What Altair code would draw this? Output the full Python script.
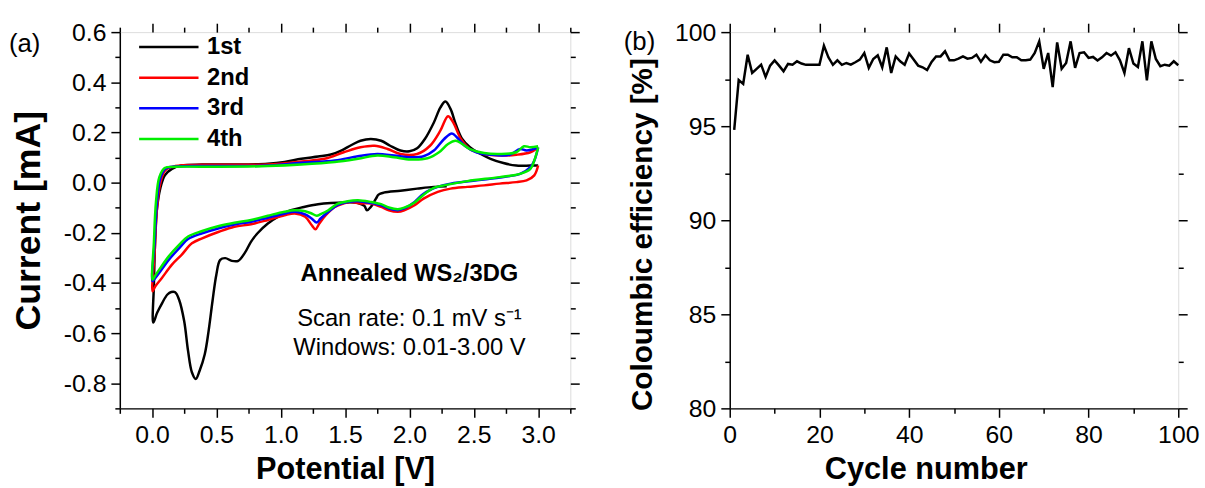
import altair as alt
import pandas as pd

FONT = "Liberation Sans"

# ---------------- Panel (a): cyclic voltammetry ----------------
series_names = ["1st", "2nd", "3rd", "4th"]
series_colors = ["#000000", "#FF0000", "#0000FF", "#00EE00"]

# 1st cycle (cathodic from OCV, then anodic to 3.0 V)
v1 = [2.29, 2.19, 2.06, 1.93, 1.80, 1.76, 1.74, 1.70, 1.67, 1.65,
      1.60, 1.49, 1.39, 1.29, 1.18, 1.08, 0.98, 0.90, 0.82, 0.77,
      0.72, 0.67, 0.62, 0.57, 0.53, 0.50, 0.47, 0.44, 0.41, 0.37,
      0.34, 0.31, 0.28, 0.25, 0.21, 0.18, 0.15, 0.12, 0.08, 0.04, 0.01,
      0.015, 0.026, 0.039, 0.064, 0.10, 0.155, 0.23, 0.39, 0.64, 0.90,
      1.03, 1.16, 1.29, 1.39, 1.47, 1.55, 1.62, 1.70, 1.78, 1.85,
      1.93, 2.00, 2.06, 2.12, 2.19, 2.24, 2.28, 2.32, 2.36, 2.41,
      2.47, 2.55, 2.63, 2.73, 2.83, 2.94, 3.00]
i1 = [-0.015, -0.017, -0.024, -0.032, -0.040, -0.048, -0.064, -0.097, -0.110, -0.093,
      -0.081, -0.079, -0.081, -0.086, -0.097, -0.110, -0.136, -0.163, -0.202, -0.235,
      -0.281, -0.312, -0.312, -0.301, -0.308, -0.367, -0.473, -0.591, -0.684, -0.750,
      -0.783, -0.756, -0.670, -0.552, -0.466, -0.437, -0.436, -0.446, -0.479, -0.519, -0.558,
      -0.407, -0.209, -0.103, -0.024, 0.029, 0.055, 0.068, 0.072, 0.072, 0.075,
      0.082, 0.095, 0.104, 0.112, 0.128, 0.150, 0.167, 0.174, 0.167, 0.147,
      0.128, 0.125, 0.137, 0.174, 0.240, 0.299, 0.323, 0.293, 0.233, 0.174,
      0.141, 0.115, 0.095, 0.078, 0.068, 0.068, 0.068]

# 2nd cycle
v2 = [3.00, 2.97, 2.91, 2.83, 2.70, 2.58, 2.45, 2.32, 2.22, 2.11,
      2.04, 1.96, 1.91, 1.84, 1.78, 1.70, 1.62, 1.55, 1.49, 1.42,
      1.35, 1.30, 1.27, 1.24, 1.19, 1.11, 1.03, 0.90, 0.77, 0.64,
      0.52, 0.39, 0.31, 0.23, 0.155, 0.077, 0.026, 0.005,
      0.021, 0.039, 0.064, 0.103, 0.18, 0.39, 0.64, 0.90, 1.16, 1.34,
      1.49, 1.62, 1.73, 1.83, 1.93, 2.06, 2.16, 2.24, 2.30, 2.34,
      2.40, 2.47, 2.58, 2.70, 2.83, 2.94, 3.00]
i2 = [0.068, 0.029, 0.009, 0.002, -0.004, -0.011, -0.017, -0.024, -0.037, -0.064,
      -0.090, -0.110, -0.116, -0.110, -0.097, -0.083, -0.083, -0.077, -0.083, -0.097,
      -0.130, -0.163, -0.186, -0.169, -0.136, -0.123, -0.130, -0.149, -0.166, -0.176,
      -0.196, -0.222, -0.242, -0.288, -0.327, -0.380, -0.413, -0.433,
      -0.275, -0.103, -0.004, 0.049, 0.066, 0.071, 0.071, 0.072, 0.084, 0.095,
      0.121, 0.141, 0.147, 0.134, 0.114, 0.114, 0.147, 0.207, 0.265, 0.240,
      0.174, 0.134, 0.114, 0.108, 0.111, 0.121, 0.140]

# 3rd cycle
v3 = [3.00, 2.97, 2.94, 2.86, 2.78, 2.58, 2.32, 2.22, 2.11, 2.04,
      1.96, 1.91, 1.84, 1.78, 1.70, 1.60, 1.52, 1.44, 1.37, 1.31,
      1.28, 1.24, 1.19, 1.11, 1.03, 0.90, 0.77, 0.64, 0.52, 0.39,
      0.28, 0.21, 0.13, 0.064, 0.026, 0.005,
      0.021, 0.039, 0.064, 0.103, 0.18, 0.52, 0.90, 1.16, 1.42, 1.60,
      1.75, 1.88, 2.01, 2.11, 2.19, 2.27, 2.33, 2.37, 2.43, 2.52,
      2.63, 2.78, 2.86, 2.91, 3.00]
i3 = [0.140, 0.087, 0.062, 0.035, 0.026, 0.012, -0.004, -0.017, -0.044, -0.077,
      -0.103, -0.110, -0.103, -0.090, -0.081, -0.074, -0.077, -0.090, -0.116, -0.143,
      -0.159, -0.143, -0.127, -0.116, -0.123, -0.140, -0.156, -0.167, -0.182, -0.202,
      -0.225, -0.262, -0.308, -0.354, -0.380, -0.393,
      -0.235, -0.077, 0.016, 0.055, 0.064, 0.066, 0.068, 0.079, 0.088, 0.105,
      0.114, 0.108, 0.101, 0.105, 0.128, 0.174, 0.196, 0.180, 0.147, 0.121,
      0.111, 0.111, 0.134, 0.128, 0.140]

# 4th cycle
v4 = [3.00, 2.97, 2.94, 2.86, 2.70, 2.45, 2.27, 2.19, 2.11, 2.04,
      1.96, 1.91, 1.84, 1.78, 1.70, 1.60, 1.52, 1.44, 1.37, 1.31,
      1.28, 1.24, 1.19, 1.11, 1.03, 0.90, 0.77, 0.64, 0.52, 0.39,
      0.28, 0.21, 0.13, 0.064, 0.026, 0.005,
      0.015, 0.031, 0.057, 0.098, 0.18, 0.52, 0.90, 1.16, 1.42, 1.60,
      1.75, 1.88, 2.01, 2.14, 2.23, 2.30, 2.36, 2.41, 2.47, 2.58,
      2.70, 2.83, 2.89, 2.94, 3.00]
i4 = [0.140, 0.088, 0.055, 0.035, 0.022, 0.006, -0.011, -0.021, -0.048, -0.079,
      -0.100, -0.106, -0.099, -0.086, -0.077, -0.070, -0.074, -0.085, -0.110, -0.126,
      -0.132, -0.123, -0.114, -0.110, -0.116, -0.132, -0.149, -0.160, -0.173, -0.193,
      -0.215, -0.248, -0.294, -0.341, -0.370, -0.387,
      -0.235, -0.077, 0.022, 0.058, 0.063, 0.063, 0.066, 0.072, 0.082, 0.095,
      0.108, 0.101, 0.092, 0.097, 0.121, 0.154, 0.167, 0.154, 0.134, 0.118,
      0.114, 0.121, 0.145, 0.141, 0.145]

pot_ticks = [-0.25, 0.0, 0.25, 0.5, 0.75, 1.0, 1.25, 1.5, 1.75, 2.0, 2.25, 2.5, 2.75, 3.0, 3.25]
cur_ticks = [-0.9, -0.8, -0.7, -0.6, -0.5, -0.4, -0.3, -0.2, -0.1, 0.0,
             0.1, 0.2, 0.3, 0.4, 0.5, 0.6]

title_text = ["Annealed WS\u2082/3DG"]
title_x = [2.0]
title_y = [-0.365]
note_text = ["Scan rate: 0.1 mV s\u207b\u00b9", "Windows: 0.01-3.00 V"]
note_x = [2.0, 2.0]
note_y = [-0.543, -0.661]

# ---------------- Panel (b): coulombic efficiency ----------------
cycles = list(range(1, 101))
ce = [94.80, 97.45, 97.25, 98.80, 97.83, 98.05, 98.27, 97.62, 98.22, 98.50,
      98.22, 97.92, 98.31, 98.27, 98.45, 98.33, 98.26, 98.26, 98.26, 98.26,
      99.28, 98.66, 98.26, 98.50, 98.26, 98.36, 98.27, 98.40, 98.54, 98.89,
      98.10, 98.57, 98.77, 98.13, 99.19, 97.83, 98.71, 98.45, 98.27, 98.86,
      98.54, 98.22, 98.13, 97.98, 98.42, 98.71, 98.71, 98.98, 98.50, 98.50,
      98.59, 98.71, 98.59, 98.63, 98.80, 98.42, 98.77, 98.50, 98.40, 98.42,
      98.80, 98.80, 98.66, 98.66, 98.50, 98.50, 98.54, 98.89, 99.51, 98.05,
      98.89, 97.08, 99.45, 98.05, 98.36, 99.51, 98.10, 98.89, 98.93, 98.63,
      98.68, 98.49, 98.66, 98.89, 98.75, 98.93, 98.50, 97.83, 99.15, 98.33,
      98.15, 99.51, 97.43, 99.51, 98.57, 98.19, 98.27, 98.22, 98.45, 98.24]

cyc_ticks = [0, 10, 20, 30, 40, 50, 60, 70, 80, 90, 100]
ce_ticks = [80, 82.5, 85, 87.5, 90, 92.5, 95, 97.5, 100]

# ---------------- build tables ----------------
rows = []
for name, vs, cs in zip(series_names, [v1, v2, v3, v4], [i1, i2, i3, i4]):
    for k, (v, c) in enumerate(zip(vs, cs)):
        rows.append({"cycle": name, "idx": k, "V": v, "I": c})
cv = pd.DataFrame(rows)
ann_bold = pd.DataFrame({"V": title_x, "I": title_y, "text": title_text})
ann_norm = pd.DataFrame({"V": note_x, "I": note_y, "text": note_text})
ce_df = pd.DataFrame({"n": cycles, "ce": ce})

W_A, W_B, H = 455, 453, 380


def major_size(test):
    return {"condition": {"test": test, "value": 9}, "value": 5}


def axis(title, values, test, orient, fmt=None, title_size=31, title_pad=10, mirror=False, **extra):
    kw = dict(
        orient=orient, values=values, grid=False,
        domain=False if mirror else True, domainColor="black", domainWidth=1.5,
        tickColor="black", tickWidth=1.5, tickSize=major_size(test),
        labelFont=FONT, labelFontSize=25, labelColor="black",
        labelFlush=False, labelOverlap=False, labelPadding=5,
    )
    if mirror:
        kw.update(labels=False, title=None)
    else:
        kw.update(title=title, titleFont=FONT, titleFontSize=title_size,
                  titleFontWeight="bold", titleColor="black", titlePadding=title_pad,
                  labelExpr=f"({test}) ? replace(datum.label, '\u2212', '-') : ''")
        if fmt:
            kw["format"] = fmt
    kw.update(extra)
    return alt.Axis(**kw)


test_pot = "abs(datum.value*2 - round(datum.value*2)) < 0.001"
test_cur = "abs(datum.value*5 - round(datum.value*5)) < 0.001"
test_cyc = "abs(datum.value % 20) < 0.001"
test_ce = "abs(datum.value % 5) < 0.001"

xs_a = alt.Scale(domain=[-0.25, 3.25], nice=False, zero=False)
ys_a = alt.Scale(domain=[-0.9, 0.6], nice=False, zero=False)

lines_a = alt.Chart(cv).mark_line(strokeWidth=2.5, clip=True, interpolate="catmull-rom").encode(
    x=alt.X("V:Q", scale=xs_a, axis=axis("Potential [V]", pot_ticks, test_pot, "bottom", fmt=".1f", title_pad=8)),
    y=alt.Y("I:Q", scale=ys_a, axis=axis("Current [mA]", cur_ticks, test_cur, "left", fmt=".1f",
                                         title_size=36, title_pad=16)),
    color=alt.Color("cycle:N", scale=alt.Scale(domain=series_names, range=series_colors),
                    legend=alt.Legend(title=None, orient="none", legendX=18, legendY=3,
                                      symbolType="stroke", symbolSize=3600, symbolStrokeWidth=2.5,
                                      labelFont=FONT, labelFontSize=24, labelFontWeight="bold",
                                      labelColor="black", labelOffset=7, rowPadding=7,
                                      clipHeight=24)),
    order="idx:Q",
)

mirror_a = alt.Chart(cv).mark_point(opacity=0).encode(
    x=alt.X("V:Q", scale=xs_a, axis=axis(None, pot_ticks, test_pot, "top", mirror=True)),
    y=alt.Y("I:Q", scale=ys_a, axis=axis(None, cur_ticks, test_cur, "right", mirror=True)),
)

text_bold = alt.Chart(ann_bold).mark_text(font=FONT, fontSize=24, fontWeight="bold", color="black",
                                          align="center", baseline="middle").encode(
    x=alt.X("V:Q", scale=xs_a, axis=None),
    y=alt.Y("I:Q", scale=ys_a, axis=None),
    text="text:N",
)
text_norm = alt.Chart(ann_norm).mark_text(font=FONT, fontSize=24, color="black",
                                          align="center", baseline="middle").encode(
    x=alt.X("V:Q", scale=xs_a, axis=None),
    y=alt.Y("I:Q", scale=ys_a, axis=None),
    text="text:N",
)

label_a = alt.Chart(pd.DataFrame({"t": ["(a)"]})).mark_text(
    font=FONT, fontSize=26, color="black", align="left", baseline="middle"
).encode(x=alt.value(-112), y=alt.value(12), text="t:N")

panel_a = alt.layer(lines_a, mirror_a, text_bold, text_norm, label_a).resolve_axis(
    x="independent", y="independent"
).properties(width=W_A, height=H)

xs_b = alt.Scale(domain=[0, 100], nice=False, zero=False)
ys_b = alt.Scale(domain=[80, 100], nice=False, zero=False)

line_b = alt.Chart(ce_df).mark_line(strokeWidth=2.5, color="black").encode(
    x=alt.X("n:Q", scale=xs_b, axis=axis("Cycle number", cyc_ticks, test_cyc, "bottom", title_pad=8,
                                         titleX=198)),
    y=alt.Y("ce:Q", scale=ys_b, axis=axis("Coloumbic efficiency [%]", ce_ticks, test_ce, "left",
                                          title_size=30, title_pad=17, titleY=204)),
)
mirror_b = alt.Chart(ce_df).mark_point(opacity=0).encode(
    x=alt.X("n:Q", scale=xs_b, axis=axis(None, cyc_ticks, test_cyc, "top", mirror=True)),
    y=alt.Y("ce:Q", scale=ys_b, axis=axis(None, ce_ticks, test_ce, "right", mirror=True)),
)
label_b = alt.Chart(pd.DataFrame({"t": ["(b)"]})).mark_text(
    font=FONT, fontSize=26, color="black", align="left", baseline="middle"
).encode(x=alt.value(-107), y=alt.value(10), text="t:N")

panel_b = alt.layer(line_b, mirror_b, label_b).resolve_axis(
    x="independent", y="independent"
).properties(width=W_B, height=H)

chart = alt.hconcat(panel_a, panel_b, spacing=42).resolve_legend(
    color="independent"
).resolve_scale(color="independent").properties(
    padding={"left": 8, "top": 17, "right": 5, "bottom": 2}
).configure_view(stroke="black", strokeWidth=1.5).configure(background="white")

chart.save("out.html", embed_options={"renderer": "svg", "actions": False})
